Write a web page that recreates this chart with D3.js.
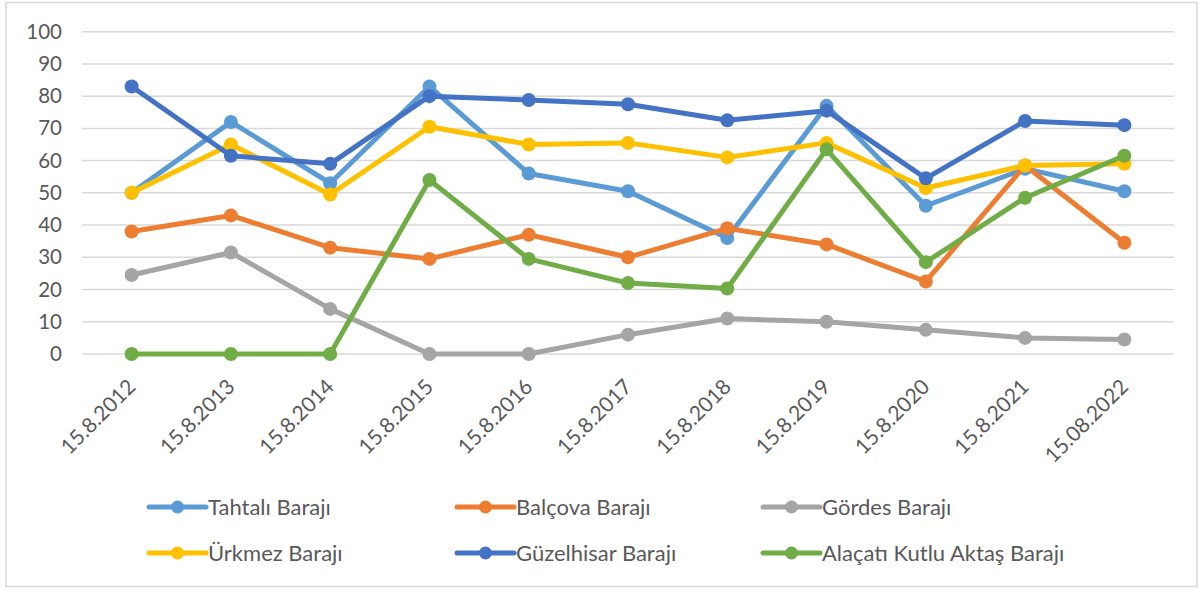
<!DOCTYPE html>
<html>
<head>
<meta charset="utf-8">
<script src="https://cdn.jsdelivr.net/npm/d3@7"></script>
<style>
  html, body { margin: 0; padding: 0; background: #ffffff; }
  svg { display: block; }
  text { font-family: Lato, "Noto Sans", sans-serif; fill: #595959; }
</style>
</head>
<body>
<svg id="chart" width="1203" height="590"></svg>
<script>
const categories = ["15.8.2012","15.8.2013","15.8.2014","15.8.2015","15.8.2016","15.8.2017","15.8.2018","15.8.2019","15.8.2020","15.8.2021","15.08.2022"];
const seriesNames = ["Tahtalı Barajı","Balçova Barajı","Gördes Barajı","Ürkmez Barajı","Güzelhisar Barajı","Alaçatı Kutlu Aktaş Barajı"];
const tahtali    = [50, 72, 53, 83, 56, 50.5, 36, 77, 46, 57.5, 50.5];
const balcova    = [38, 43, 33, 29.5, 37, 30, 39, 34, 22.5, 58.5, 34.5];
const gordes     = [24.5, 31.5, 14, 0, 0, 6, 11, 10, 7.5, 5, 4.5];
const urkmez     = [50, 65, 49.5, 70.5, 65, 65.5, 61, 65.5, 51.5, 58.5, 59];
const guzelhisar = [83, 61.5, 59, 80, 78.8, 77.5, 72.5, 75.5, 54.5, 72.3, 71];
const alacati    = [0, 0, 0, 54, 29.5, 22, 20.3, 63.5, 28.5, 48.5, 61.5];
const yTicks = [0, 10, 20, 30, 40, 50, 60, 70, 80, 90, 100];
const colors = ["#5B9BD5","#ED7D31","#A5A5A5","#FFC000","#4472C4","#70AD47"];

const seriesValues = [tahtali, balcova, gordes, urkmez, guzelhisar, alacati];

const svg = d3.select("#chart");

// outer border
svg.append("rect").attr("x", 6).attr("y", 2.5).attr("width", 1191).attr("height", 584)
  .attr("fill", "#fff").attr("stroke", "#D9D9D9").attr("stroke-width", 1.5);

const x = d3.scaleBand().domain(categories).range([82, 1174]);
const y = d3.scaleLinear().domain([0, 100]).range([354, 31.7]);

// gridlines
svg.append("g").selectAll("line").data(yTicks).join("line")
  .attr("x1", 82).attr("x2", 1174)
  .attr("y1", d => y(d)).attr("y2", d => y(d))
  .attr("stroke", "#D9D9D9").attr("stroke-width", 1.5);

// y axis labels
const yAxis = d3.axisLeft(y).tickValues(yTicks).tickSize(0).tickPadding(0);
const gy = svg.append("g").attr("transform", "translate(62,0)").call(yAxis);
gy.select(".domain").remove();
gy.selectAll("text").attr("font-size", 20.5).attr("fill", "#595959")
  .style("font-family", "Lato, 'Noto Sans', sans-serif");

// x axis labels
const xAxis = d3.axisBottom(x).tickSize(0).tickPadding(0);
const gx = svg.append("g").attr("transform", "translate(0,372)").call(xAxis);
gx.select(".domain").remove();
gx.selectAll("text")
  .attr("font-size", 21).attr("fill", "#595959")
  .style("font-family", "Lato, 'Noto Sans', sans-serif")
  .attr("text-anchor", "end")
  .attr("x", 0).attr("y", 0).attr("dy", "0.75em")
  .attr("transform", "translate(-6,5) rotate(-45)");

// lines
const cx = c => x(c) + x.bandwidth() / 2;
const line = d3.line().x((d, i) => cx(categories[i])).y(d => y(d));

seriesValues.forEach((vals, si) => {
  const g = svg.append("g");
  g.append("path").datum(vals).attr("d", line)
    .attr("fill", "none").attr("stroke", colors[si]).attr("stroke-width", 5)
    .attr("stroke-linejoin", "round").attr("stroke-linecap", "round");
  g.selectAll("circle").data(vals).join("circle")
    .attr("cx", (d, i) => cx(categories[i])).attr("cy", d => y(d))
    .attr("r", 7).attr("fill", colors[si]);
});

// legend
const legendCols = [149, 457, 763];
const legendRows = [507, 553];
seriesNames.forEach((name, i) => {
  const lx = legendCols[i % 3], ly = legendRows[Math.floor(i / 3)];
  const g = svg.append("g").attr("transform", `translate(${lx},${ly})`);
  g.append("line").attr("x1", 0).attr("x2", 57).attr("y1", 0).attr("y2", 0)
    .attr("stroke", colors[i]).attr("stroke-width", 5).attr("stroke-linecap", "round");
  g.append("circle").attr("cx", 28.5).attr("cy", 0).attr("r", 6.5).attr("fill", colors[i]);
  g.append("text").attr("x", 59).attr("y", 0).attr("dy", "0.36em")
    .attr("font-size", 22).text(name);
});
</script>
</body>
</html>
